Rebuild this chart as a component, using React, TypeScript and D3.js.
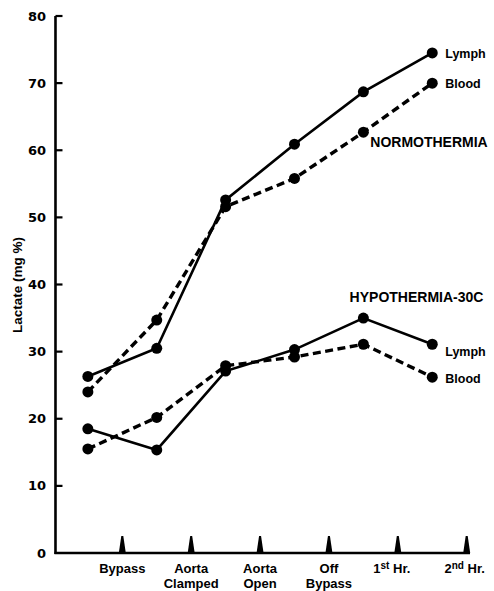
import React from "react";
import * as d3 from "d3";

const stages = [["Bypass"], ["Aorta", "Clamped"], ["Aorta", "Open"], ["Off", "Bypass"], ["1st Hr."], ["2nd Hr."]];
const yTicks = [0, 10, 20, 30, 40, 50, 60, 70, 80];
const normoLymph = [26.3, 30.5, 52.6, 60.9, 68.7, 74.5];
const normoBlood = [24.0, 34.7, 51.6, 55.8, 62.7, 70.0];
const hypoLymph = [18.5, 15.35, 27.1, 30.3, 35.0, 31.1];
const hypoBlood = [15.5, 20.2, 27.9, 29.2, 31.1, 26.2];

const W = 494, H = 591;
const FONT = "'Liberation Sans', Arial, sans-serif";

export default function App() {
  const x = d3.scaleLinear().domain([0, 5]).range([122.3, 466.7]);
  const y = d3.scaleLinear().domain([0, 80]).range([553, 16]);
  const px = (i: number) => x(i - 0.5);
  const line = d3.line<number>().x((_, i) => px(i)).y((d) => y(d));

  const series = [
    { data: normoLymph, dash: null, label: "Lymph", dy: 5 },
    { data: normoBlood, dash: "8,4.5", label: "Blood", dy: 5 },
    { data: hypoLymph, dash: null, label: "Lymph", dy: 12 },
    { data: hypoBlood, dash: "8,4.5", label: "Blood", dy: 6 },
  ];

  const axisX = x(-0.97);
  const tri = (cx: number) => `M${cx - 3.5},${y(0)} L${cx - 1},${y(0) - 17} L${cx + 1},${y(0) - 17} L${cx + 3.5},${y(0)} Z`;

  return (
    <svg width={W} height={H} style={{ position: "absolute", left: 0, top: 0, background: "#fff" }}>
      <rect width={W} height={H} fill="#fff" />
      {/* axes */}
      <line x1={axisX} x2={axisX} y1={y(80)} y2={y(0) + 1} stroke="#000" strokeWidth={2.6} />
      <line x1={axisX - 1} x2={470} y1={y(0)} y2={y(0)} stroke="#000" strokeWidth={2.6} />
      {yTicks.map((t) => (
        <g key={t}>
          {t > 0 && <line x1={axisX} x2={axisX + 7} y1={y(t)} y2={y(t)} stroke="#000" strokeWidth={2.2} />}
          <text x={46} y={y(t) + 4.5} textAnchor="end" fontFamily="'DejaVu Sans', sans-serif" fontWeight="bold" fontSize={13}>{t}</text>
        </g>
      ))}
      <text transform={`translate(22,285) rotate(-90)`} textAnchor="middle" fontFamily={FONT} fontWeight="bold" fontSize={13.5}>Lactate (mg %)</text>
      {stages.map((s, i) => (
        <g key={i}>
          <path d={tri(x(i))} fill="#000" />
          {i < 4 ? (
            s.map((w, j) => (
              <text key={j} x={x(i)} y={573 + j * 15} textAnchor="middle" fontFamily={FONT} fontWeight="bold" fontSize={13}>{w}</text>
            ))
          ) : (
            <text x={x(i) - (i === 4 ? 6 : 2)} y={573} textAnchor="middle" fontFamily={FONT} fontWeight="bold" fontSize={13}>
              {s[0].slice(0, 1)}
              <tspan fontSize={10} dy={-4}>{s[0].slice(1, 3)}</tspan>
              <tspan dy={4}>{" " + s[0].slice(4)}</tspan>
            </text>
          )}
        </g>
      ))}
      {/* series */}
      {series.map((s, k) => (
        <g key={k}>
          <path d={line(s.data) || ""} fill="none" stroke="#000" strokeWidth={s.dash ? 3.4 : 2.6} strokeDasharray={s.dash || undefined} />
          {s.data.map((d, i) => (
            <circle key={i} cx={px(i)} cy={y(d)} r={5.5} fill="#000" />
          ))}
          <text x={px(5) + 13} y={y(s.data[5]) + s.dy} fontFamily={FONT} fontWeight="bold" fontSize={12.5}>{s.label}</text>
        </g>
      ))}
      <text x={x(3.6)} y={y(61.3) + 5} fontFamily={FONT} fontWeight="bold" fontSize={14}>NORMOTHERMIA</text>
      <text x={x(3.3)} y={y(38.2) + 5} fontFamily={FONT} fontWeight="bold" fontSize={14}>HYPOTHERMIA-30C</text>
    </svg>
  );
}
